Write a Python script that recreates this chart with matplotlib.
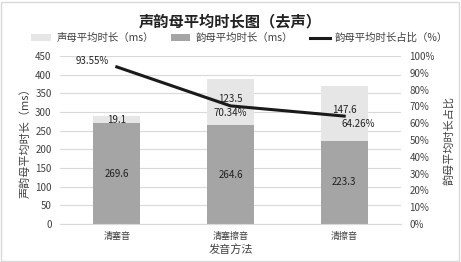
import matplotlib
matplotlib.use("Agg")
import matplotlib.pyplot as plt
from matplotlib.patches import Rectangle

plt.rcParams['font.family'] = ['Noto Sans CJK SC', 'DejaVu Sans']

categories = ['清塞音', '清塞擦音', '清擦音']
initial_ms = [19.1, 123.5, 147.6]
final_ms = [269.6, 264.6, 223.3]
final_ratio = [93.55, 70.34, 64.26]

light = '#E7E6E6'
dark = '#A5A5A5'
txt = '#404040'

fig = plt.figure(figsize=(4.61, 2.62), dpi=100)
ax = fig.add_axes([0.130, 0.145, 0.740, 0.641])
ax2 = ax.twinx()

x = list(range(len(categories)))
w = 0.41
b1 = ax.bar(x, final_ms, w, color=dark, zorder=2, label='韵母平均时长（ms）')
b2 = ax.bar(x, initial_ms, w, bottom=final_ms, color=light, zorder=2, label='声母平均时长（ms）')
for i in x:
    ax.text(i, final_ms[i] / 2, f'{final_ms[i]:.1f}', ha='center', va='center', fontsize=7, color='#222222')
    ax.text(i, final_ms[i] + initial_ms[i] / 2 + (8 if i else 0), f'{initial_ms[i]:.1f}', ha='center', va='center', fontsize=7, color='#222222')

ax.set_ylim(0, 450)
ax.set_yticks(range(0, 451, 50))
ax.set_xlim(-0.5, 2.5)
ax.set_xticks(x)
ax.set_xticklabels(categories, fontsize=6.5, color=txt)
ax.yaxis.grid(True, color='#D9D9D9', lw=0.8, zorder=0)
ax.set_axisbelow(True)
for s in ['top', 'right', 'left']:
    ax.spines[s].set_visible(False)
ax.spines['bottom'].set_color('#D9D9D9')
ax.tick_params(axis='y', length=0, labelsize=7, colors=txt, pad=6)
ax.tick_params(axis='x', length=0, labelsize=6.5, colors=txt, pad=6)
ax.set_ylabel('声韵母平均时长（ms）', fontsize=8, color=txt, labelpad=3)
ax.set_xlabel('发音方法', fontsize=8, color=txt, labelpad=2)

ratio = [r / 100 for r in final_ratio]
ln, = ax2.plot(x, ratio, color='#1a1a1a', lw=2.2, zorder=5, label='韵母平均时长占比（%）')
offs = [(-0.22, 0.035), (0.0, -0.045), (0.12, -0.045)]
for i in x:
    ax2.text(i + offs[i][0], ratio[i] + offs[i][1], f'{final_ratio[i]:.2f}%', ha='center', va='center', fontsize=7, color='#222222')
ax2.set_ylim(0, 1.0)
ax2.set_yticks([k / 10 for k in range(11)])
ax2.set_yticklabels([f'{k*10}%' for k in range(11)])
for s in ['top', 'right', 'left', 'bottom']:
    ax2.spines[s].set_visible(False)
ax2.tick_params(axis='y', length=0, labelsize=7, colors=txt, pad=6)
ax2.set_ylabel('韵母平均时长占比', fontsize=8, color=txt, labelpad=6)

fig.suptitle('声韵母平均时长图（去声）', y=0.95, fontsize=11, fontweight='bold', color='#222222')
fig.legend(handles=[b2, b1, ln], labels=['声母平均时长（ms）', '韵母平均时长（ms）', '韵母平均时长占比（%）'],
           loc='center', bbox_to_anchor=(0.52, 0.855), ncol=3, frameon=False, fontsize=7.5,
           handlelength=1.9, handleheight=0.6, columnspacing=1.6, handletextpad=0.5, labelcolor=txt)

fig.patches.append(Rectangle((0.002, 0.004), 0.994, 0.99, transform=fig.transFigure,
                             fill=False, edgecolor='#D9D9D9', lw=1))
fig.savefig('out.png', dpi=100)
